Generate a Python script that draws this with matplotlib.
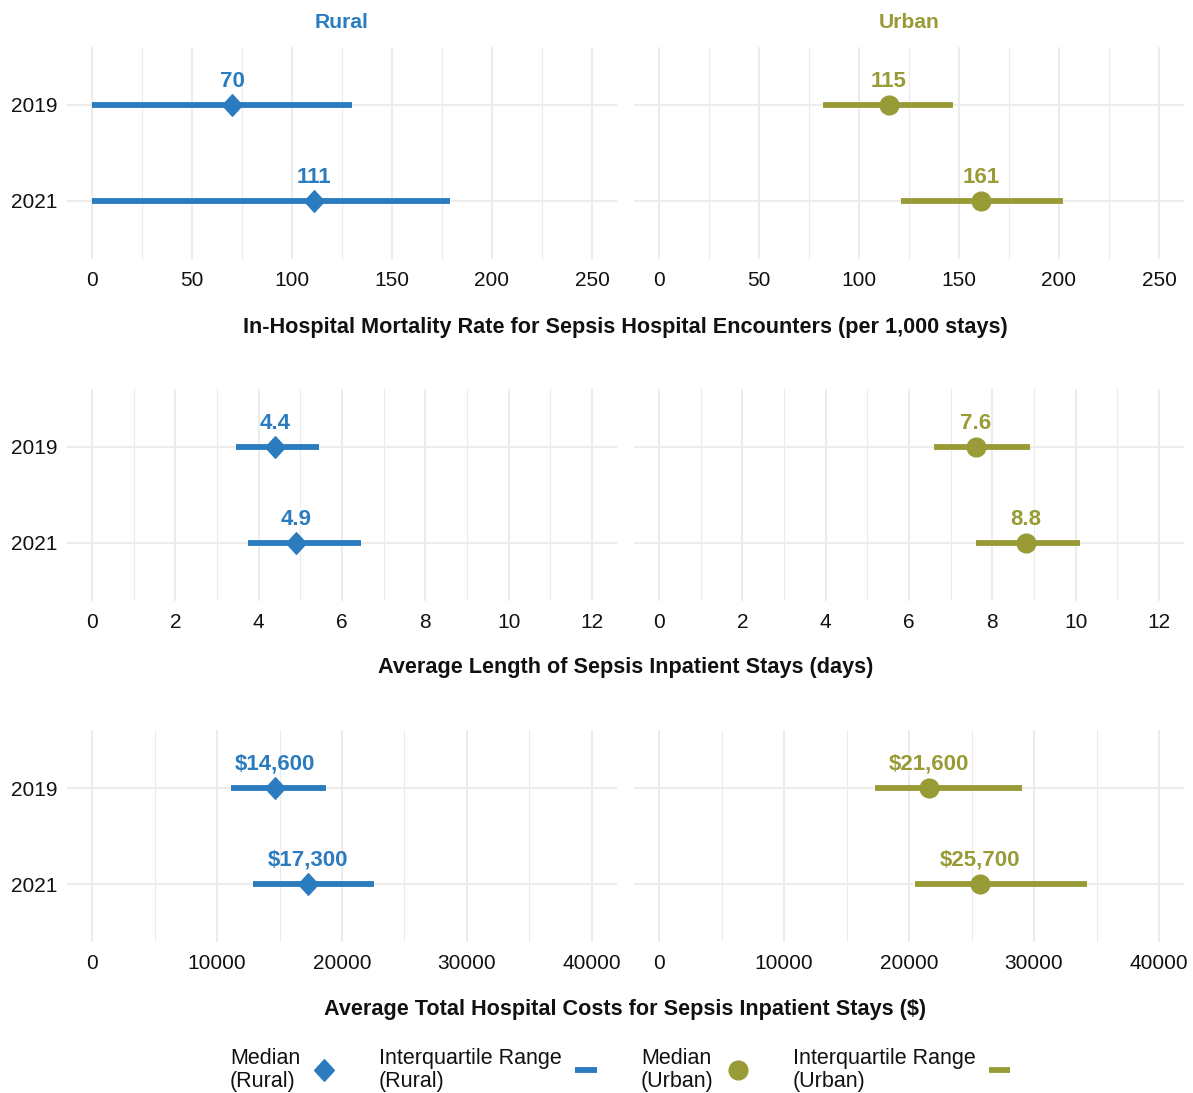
import numpy as np
import matplotlib
matplotlib.use("Agg")
import matplotlib.pyplot as plt
from matplotlib.lines import Line2D
from matplotlib.path import Path

plt.rcParams["font.family"] = ["Liberation Sans", "DejaVu Sans"]

years = ["2019", "2021"]

# in-hospital mortality per 1,000 stays
mort_rural_med = [70, 111]
mort_rural_lo = [0, 0]
mort_rural_hi = [130, 179]
mort_urban_med = [115, 161]
mort_urban_lo = [82, 121]
mort_urban_hi = [147, 202]

# average length of stay (days)
los_rural_med = [4.4, 4.9]
los_rural_lo = [3.45, 3.75]
los_rural_hi = [5.45, 6.45]
los_urban_med = [7.6, 8.8]
los_urban_lo = [6.6, 7.6]
los_urban_hi = [8.9, 10.1]

# average total hospital costs ($)
cost_rural_med = [14600, 17300]
cost_rural_lo = [11100, 12900]
cost_rural_hi = [18700, 22600]
cost_urban_med = [21600, 25700]
cost_urban_lo = [17300, 20500]
cost_urban_hi = [29000, 34200]

mort_title = "In-Hospital Mortality Rate for Sepsis Hospital Encounters (per 1,000 stays)"
los_title = "Average Length of Sepsis Inpatient Stays (days)"
cost_title = "Average Total Hospital Costs for Sepsis Inpatient Stays ($)"

BLUE = "#2B7BBF"
OLIVE = "#989B36"
GRID = "#EBEBEB"
INK = "#111111"

# filled diamond, like ggplot shape 18
diamond = Path([(0, 1), (0.92, 0), (0, -1), (-0.92, 0), (0, 1)],
               [Path.MOVETO, Path.LINETO, Path.LINETO, Path.LINETO, Path.CLOSEPOLY])
DIAMOND_MS = 15.5
CIRCLE_MS = 13.5

W, H = 1193, 1093
fig = plt.figure(figsize=(W / 100, H / 100), dpi=100)


def box(x0, x1, y0, y1):
    return [x0 / W, 1 - y1 / H, (x1 - x0) / W, (y1 - y0) / H]


def draw_panel(ax, med, lo, hi, color, marker, ms, fmt, xmax, major, minor, show_years):
    ypos = np.arange(len(years))
    ax.hlines(ypos, lo, hi, color=color, lw=4.2, capstyle="butt", zorder=3)
    ax.plot(med, ypos, ls="none", marker=marker, ms=ms, color=color, mec=color, zorder=4)
    for m, y in zip(med, ypos):
        ax.annotate(fmt(m), (m, y), xytext=(0, 17), textcoords="offset points",
                    ha="center", va="center", fontsize=16, fontweight="bold", color=color)
    ax.set_xlim(-0.05 * xmax, 1.05 * xmax)
    ax.set_ylim(len(years) - 0.4, -0.6)
    ax.set_xticks(np.arange(0, xmax + 1, major))
    ax.set_xticks(np.arange(0, xmax + 1, minor), minor=True)
    ax.set_yticks(ypos)
    ax.set_yticklabels(years if show_years else [])
    ax.grid(which="major", color=GRID, lw=1.3)
    ax.grid(which="minor", axis="x", color=GRID, lw=0.8)
    ax.set_axisbelow(True)
    ax.tick_params(which="both", length=0, labelsize=15, labelcolor=INK)
    ax.tick_params(axis="x", pad=9)
    ax.tick_params(axis="y", pad=7)
    for s in ax.spines.values():
        s.set_visible(False)


rows = [
    (105, mort_title, 327, lambda v: f"{v:.0f}", 250, 50, 25,
     (mort_rural_med, mort_rural_lo, mort_rural_hi),
     (mort_urban_med, mort_urban_lo, mort_urban_hi)),
    (447, los_title, 668, lambda v: f"{v:.1f}", 12, 2, 1,
     (los_rural_med, los_rural_lo, los_rural_hi),
     (los_urban_med, los_urban_lo, los_urban_hi)),
    (788, cost_title, 1010, lambda v: f"${v:,.0f}", 40000, 10000, 5000,
     (cost_rural_med, cost_rural_lo, cost_rural_hi),
     (cost_urban_med, cost_urban_lo, cost_urban_hi)),
]

for i, (y_first, title, title_y, fmt, xmax, major, minor, rural, urban) in enumerate(rows):
    top = y_first - 57.6
    bottom = y_first + 96 + 57.6
    ax_r = fig.add_axes(box(67, 617, top, bottom))
    ax_u = fig.add_axes(box(634, 1184, top, bottom))
    draw_panel(ax_r, *rural, BLUE, diamond, DIAMOND_MS, fmt, xmax, major, minor, True)
    draw_panel(ax_u, *urban, OLIVE, "o", CIRCLE_MS, fmt, xmax, major, minor, False)
    fig.text(625.5 / W, 1 - title_y / H, title, ha="center", va="center",
             fontsize=15.6, fontweight="bold", color=INK)
    if i == 0:
        ax_r.set_title("Rural", fontsize=15.2, fontweight="bold", color=BLUE, pad=14)
        ax_u.set_title("Urban", fontsize=15.2, fontweight="bold", color=OLIVE, pad=14)

handles = [
    Line2D([], [], ls="none", marker=diamond, ms=DIAMOND_MS, color=BLUE),
    Line2D([], [], color=BLUE, lw=4.2, solid_capstyle="butt"),
    Line2D([], [], ls="none", marker="o", ms=CIRCLE_MS, color=OLIVE),
    Line2D([], [], color=OLIVE, lw=4.2, solid_capstyle="butt"),
]
labels = ["Median\n(Rural)", "Interquartile Range\n(Rural)",
          "Median\n(Urban)", "Interquartile Range\n(Urban)"]
leg = fig.legend(handles, labels, loc="center", bbox_to_anchor=(620 / W, 1 - 1070 / H),
                 ncol=4, frameon=False, markerfirst=False, fontsize=15.5,
                 handlelength=1.0, handletextpad=0.62, columnspacing=2.05)
for t in leg.get_texts():
    t.set_linespacing(1.1)
    t.set_multialignment("left")
    t.set_color(INK)

fig.savefig("out.png", dpi=100)
